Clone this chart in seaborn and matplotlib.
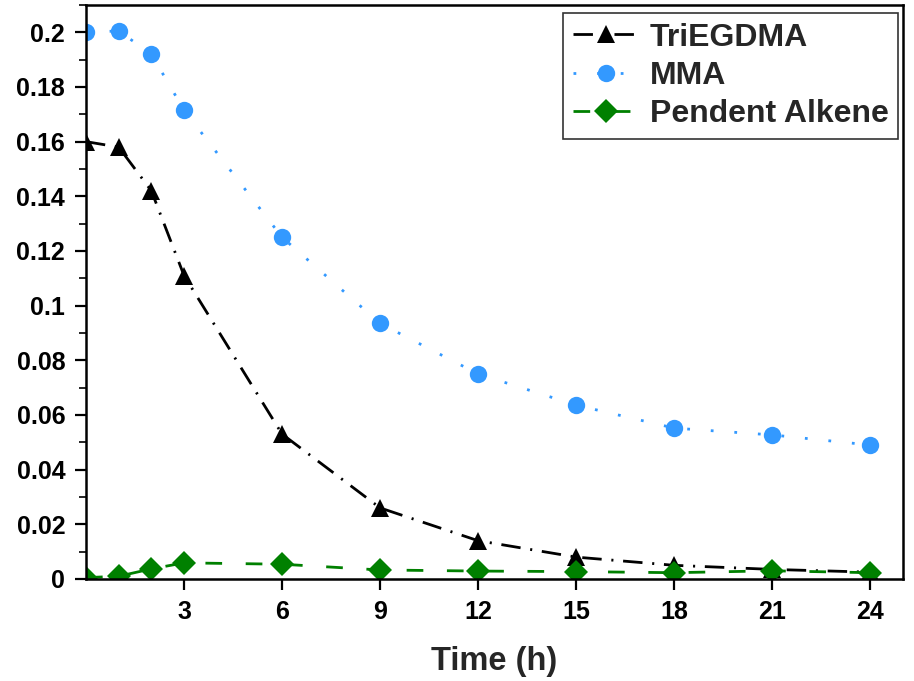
import matplotlib
matplotlib.use("Agg")
import matplotlib.pyplot as plt
import matplotlib.ticker as mticker
import numpy as np
import pandas as pd
import seaborn as sns

# Measured concentrations over time
time_h = [0, 1, 2, 3, 6, 9, 12, 15, 18, 21, 24]
triegdma = [0.160, 0.158, 0.142, 0.111, 0.053, 0.026, 0.014, 0.008, 0.005, 0.0035, 0.0025]
mma = [0.200, 0.2005, 0.192, 0.1715, 0.125, 0.0935, 0.075, 0.0636, 0.0552, 0.0527, 0.049]
pendent = [0.0005, 0.001, 0.0037, 0.0059, 0.0054, 0.0033, 0.0029, 0.0027, 0.0023, 0.003, 0.0023]

x_ticks = [3, 6, 9, 12, 15, 18, 21, 24]
x_label = "Time (h)"

sns.set_style("ticks")
plt.rcParams["font.family"] = ["Liberation Sans", "DejaVu Sans"]
plt.rcParams["font.weight"] = "bold"
plt.rcParams["lines.scale_dashes"] = False

df = pd.DataFrame({
    "time": time_h * 3,
    "value": triegdma + mma + pendent,
    "series": ["TriEGDMA"] * len(time_h) + ["MMA"] * len(time_h) + ["Pendent Alkene"] * len(time_h),
})

styles = {
    "TriEGDMA": dict(color="black", marker="^", markersize=13.5, dashes=(14, 7, 1.5, 7)),
    "MMA": dict(color="#3399FF", marker="o", markersize=12.5, dashes=(2, 15)),
    "Pendent Alkene": dict(color="#008000", marker="D", markersize=12, dashes=(12, 17)),
}

fig = plt.figure(figsize=(9.14, 6.81), dpi=100)
ax = fig.add_axes([0.0941, 0.1498, 0.8939, 0.8429])

for name, st in styles.items():
    sub = df[df["series"] == name]
    sns.lineplot(data=sub, x="time", y="value", ax=ax, label=name,
                 color=st["color"], marker=st["marker"], markersize=st["markersize"],
                 markeredgewidth=0, linewidth=2.0, dashes=st["dashes"],
                 estimator=None, sort=False)
    ax.lines[-1].set_dashes(st["dashes"])

ax.set_xlim(0, 25)
ax.set_ylim(0, 0.21)
ax.set_xticks(x_ticks)
ax.yaxis.set_major_locator(mticker.MultipleLocator(0.02))
ax.yaxis.set_minor_locator(mticker.MultipleLocator(0.01))
ax.yaxis.set_major_formatter(mticker.FuncFormatter(lambda v, p: ("%.2f" % v).rstrip("0").rstrip(".") if abs(v) > 1e-9 else "0"))

ax.tick_params(axis="both", which="major", direction="out", length=8, width=1.6,
               labelsize=18, colors="black", pad=7)
ax.tick_params(axis="y", which="minor", direction="out", length=5, width=1.4)
for lbl in ax.get_xticklabels() + ax.get_yticklabels():
    lbl.set_fontweight("bold")

for s in ax.spines.values():
    s.set_visible(True)
    s.set_linewidth(1.8)
    s.set_color("black")

ax.set_xlabel(x_label, fontsize=23.5, fontweight="bold", labelpad=16)
ax.set_ylabel("")

leg = ax.legend(loc="upper right", bbox_to_anchor=(0.9939, 0.986), borderaxespad=0,
                fontsize=23, frameon=True, fancybox=False, handlelength=2.1,
                handletextpad=0.3, borderpad=0.3, labelspacing=0.26)
leg.get_frame().set_edgecolor("black")
leg.get_frame().set_linewidth(1.2)
for t in leg.get_texts():
    t.set_fontweight("bold")

fig.savefig("out.png", dpi=100)
